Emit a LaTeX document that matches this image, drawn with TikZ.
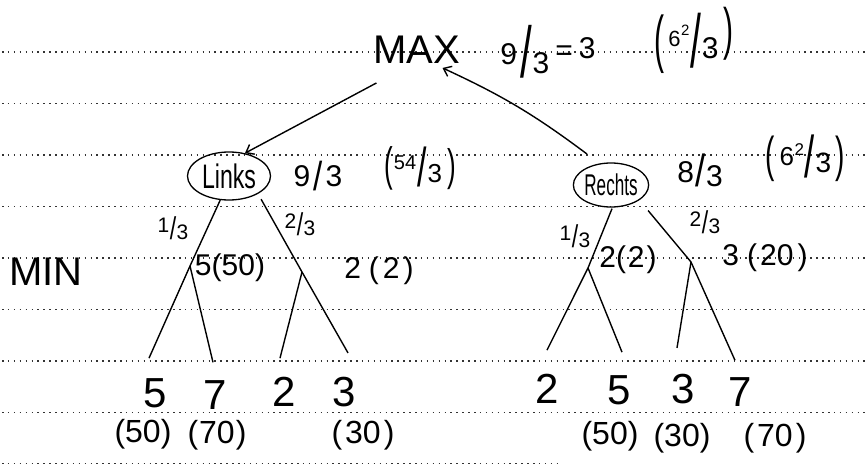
\documentclass[tikz,border=0pt]{standalone}
\usepackage{graphicx}
\usepackage{fontspec}
\setmainfont{Liberation Sans}
\usetikzlibrary{shapes.geometric,arrows.meta}
\newcommand\fsz[1]{\fontsize{#1}{#1}\selectfont}
\newcommand\myslash[3]{\raisebox{#3}{\scalebox{#1}[#2]{/}}}
\newcommand\smfr[2]{\raisebox{3pt}{#1}\kern0.5pt\myslash{1.1}{1.5}{-4pt}\kern0.5pt\raisebox{-4pt}{#2}}
\tikzset{
  paper/.style={line width=1.5pt, black!80, dash pattern=on 1.5pt off 4.4pt},
  edge/.style={line width=1.4pt, black},
  arr/.style={edge, -{Straight Barb[length=7pt,width=11pt]}},
  oval/.style={ellipse, draw, line width=1.3pt, inner sep=0pt},
  big/.style={font=\fsz{40}, inner sep=0pt},
  leaf/.style={font=\fsz{42}, inner sep=0pt},
  paren/.style={font=\fsz{32}, inner sep=0pt},
  mid/.style={font=\fsz{30}, inner sep=0pt},
  lab/.style={font=\fsz{21}, inner sep=0pt},
  frac/.style={font=\fsz{30}, inner sep=0pt},
}
\begin{document}
\begin{tikzpicture}[x=1pt,y=-1pt]
\useasboundingbox (0,0) rectangle (867,465);
\fill[white] (0,0) rectangle (867,465);
% ruled paper
\foreach \yy in {52,103.5,155,206.5,258,309.5,361,412.5}
  \draw[paper] (2,\yy) -- (867,\yy);
\draw[paper] (2,463.5) -- (560,463.5);

% top
\node[big] (max) at (417,50) {MAX};
\node[frac] (maxval) at (548,52) {9\kern3pt\myslash{1.4}{2.4}{-13pt}\kern1pt\raisebox{-9pt}{3}\kern6pt\raisebox{4pt}{=}\kern6pt\raisebox{6pt}{3}};
\node[frac] (maxpar) at (694,40) {\scalebox{1}[2.1]{(}\kern4pt\raisebox{14pt}{\fsz{22}6}\kern0.5pt\raisebox{25pt}{\fsz{15}2}\kern0.5pt\myslash{1.3}{2.5}{-7pt}\kern1pt\raisebox{2pt}{\fsz{30}3}\kern5pt\raisebox{12pt}{\scalebox{1}[1.9]{)}}};

% second level
\node[oval, minimum width=83pt, minimum height=48pt, font=\fsz{34}] (links) at (229,176) {\scalebox{0.68}[1]{Links}};
\node[oval, minimum width=73pt, minimum height=44pt, font=\fsz{30}] (rechts) at (611,185) {\scalebox{0.57}[1]{Rechts}};
\node[frac] (lval) at (318,176) {9\kern3pt\myslash{1.1}{1.35}{-4pt}\kern3pt 3};
\node[frac, font=\fsz{26}] (lpar) at (420,168) {\scalebox{1}[1.8]{(}\kern1pt\raisebox{11pt}{\fsz{20}54}\kern1pt\myslash{1.3}{2.1}{-6pt}\kern1pt\raisebox{-2pt}{\fsz{26}3}\kern5pt\scalebox{1}[1.7]{)}};
\node[frac] (rval) at (700,170) {8\kern1pt\myslash{1.2}{1.5}{-4pt}\kern1pt\raisebox{-4pt}{3}};
\node[frac, font=\fsz{28}] (rpar) at (805,158) {\scalebox{1}[1.75]{(}\kern5pt\raisebox{6pt}{\fsz{26}6}\kern0.5pt\raisebox{16pt}{\fsz{17}2}\kern0.5pt\myslash{1.3}{2.1}{-6pt}\kern1pt\raisebox{-1pt}{\fsz{28}3}\kern4pt\scalebox{1}[1.75]{)}};

% probabilities
\node[lab] (pl1) at (173,228) {\smfr{1}{3}};
\node[lab] (pl2) at (300,224) {\smfr{2}{3}};
\node[lab] (pr1) at (575,236) {\smfr{1}{3}};
\node[lab] (pr2) at (705,222) {\smfr{2}{3}};

% MIN level
\node[big] (minlab) at (46,272) {MIN};
\node[mid] (vLL) at (230,268) {5(50)};
\node[mid] (vLR) at (379,271) {2\kern8pt(\kern4pt2\kern4pt)};
\node[mid] (vRL) at (628,260) {2(\kern2pt2\kern2pt)};
\node[mid] (vRR) at (765,258) {3\kern8pt(\kern3pt20\kern4pt)};

\coordinate (jLL) at (190,266);
\coordinate (jLR) at (302,272);
\coordinate (jRL) at (588,268);
\coordinate (jRR) at (691,262);

% leaves
\node[leaf] (l5) at (155,393) {5};
\node[leaf] (l7) at (215,395) {7};
\node[leaf] (l2) at (284,392) {2};
\node[leaf] (l3) at (344,392) {3};
\node[leaf] (r2) at (547,389) {2};
\node[leaf] (r5) at (619,390) {5};
\node[leaf] (r3) at (683,389) {3};
\node[leaf] (r7) at (740,392) {7};

\node[paren] (bl5) at (143,434) {(50)};
\node[paren] (bl7) at (217,435) {(\kern1pt70\kern1pt)};
\node[paren] (bl3) at (363,435) {(\kern3pt30\kern3pt)};
\node[paren] (br5) at (610,436) {(50)};
\node[paren] (br3) at (682,438) {(30)};
\node[paren] (br7) at (775,438) {(\kern3pt70\kern3pt)};

% connectors
\draw[arr] ([shift={(3pt,-19pt)}]max.south west) -- (links.55);
\draw[arr] ([shift={(3pt,15pt)}]rechts.north west) to[bend right=6] ([shift={(-18pt,-4pt)}]max.south east);

\draw[edge] (links.250) -- (jLL);
\draw[edge] ([shift={(8pt,-3pt)}]links.-40) -- (jLR);
\draw[edge] ([shift={(1pt,-1pt)}]rechts.south) -- (jRL);
\draw[edge] ([shift={(15pt,-7pt)}]rechts.-40) -- (jRR);

\draw[edge] (jLL) -- ([shift={(-6pt,20pt)}]l5.north);
\draw[edge] (jLL) -- ([shift={(-2pt,18pt)}]l7.north);
\draw[edge] (jLR) -- ([shift={(-4pt,19pt)}]l2.north);
\draw[edge] (jLR) -- ([shift={(4pt,24pt)}]l3.north);
\draw[edge] (jRL) -- ([shift={(0pt,24pt)}]r2.north);
\draw[edge] (jRL) -- ([shift={(3pt,23pt)}]r5.north);
\draw[edge] (jRR) -- ([shift={(-6pt,26pt)}]r3.north);
\draw[edge] (jRR) -- ([shift={(-5pt,17pt)}]r7.north);
\end{tikzpicture}
\end{document}
